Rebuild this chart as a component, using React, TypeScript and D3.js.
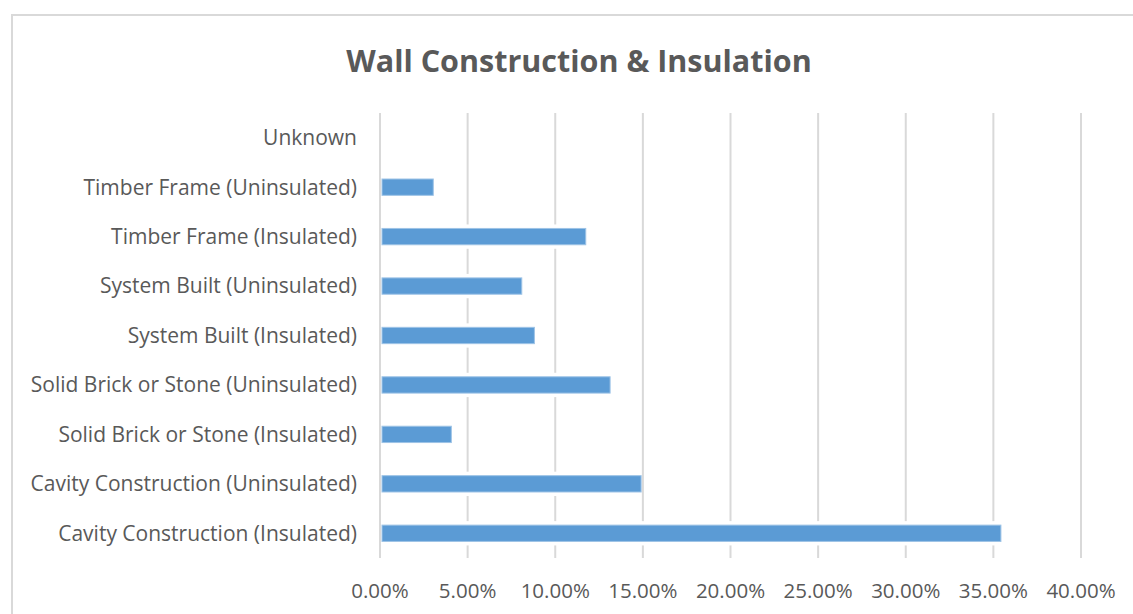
import React from "react";
import * as d3 from "d3";

const width = 1133;
const height = 614;

// categories listed bottom to top, as in the picture
const categories = [
  "Cavity Construction (Insulated)",
  "Cavity Construction (Uninsulated)",
  "Solid Brick or Stone (Insulated)",
  "Solid Brick or Stone (Uninsulated)",
  "System Built (Insulated)",
  "System Built (Uninsulated)",
  "Timber Frame (Insulated)",
  "Timber Frame (Uninsulated)",
  "Unknown",
];
const shares = [35.43, 14.9, 4.07, 13.13, 8.81, 8.09, 11.74, 3.04, 0];
const ticks = [0, 5, 10, 15, 20, 25, 30, 35, 40];

const plot = { left: 380, right: 1081, top: 113, bottom: 558 };
const font = "'Open Sans', sans-serif";
const textColor = "#595959";
const gridColor = "#d9d9d9";

const App = () => {
  const x = d3.scaleLinear().domain([0, 40]).range([plot.left, plot.right]);
  const y = d3
    .scaleBand()
    .domain([...categories].reverse())
    .range([plot.top, plot.bottom])
    .paddingInner(0.67)
    .paddingOuter(0.335);

  return (
    <svg
      width={width}
      height={height}
      style={{ position: "absolute", left: 0, top: 0, background: "#fff" }}
    >
      <rect
        x={12}
        y={15}
        width={width}
        height={height}
        fill="#fff"
        stroke={gridColor}
        strokeWidth={2}
      />
      <text
        x={579}
        y={72}
        textAnchor="middle"
        fontFamily={font}
        fontWeight="bold"
        fontSize={30.5}
        fill={textColor}
      >
        Wall Construction &amp; Insulation
      </text>
      {ticks.map((t) => (
        <g key={t}>
          <line
            x1={x(t)}
            x2={x(t)}
            y1={plot.top}
            y2={plot.bottom}
            stroke={gridColor}
            strokeWidth={2}
          />
          <text
            x={x(t)}
            y={598}
            textAnchor="middle"
            fontFamily={font}
            fontSize={20.5}
            fill={textColor}
          >
            {t.toFixed(2)}%
          </text>
        </g>
      ))}
      {categories.map((c, i) => {
        const by = y(c) as number;
        const bh = y.bandwidth();
        return (
          <g key={c}>
            {shares[i] > 0 && (
              <>
                <rect
                  x={x(0) + 2}
                  y={by - 4}
                  width={x(shares[i]) - x(0) - 2}
                  height={bh + 8}
                  fill="#fff"
                />
                <rect
                  x={x(0) + 2}
                  y={by}
                  width={x(shares[i]) - x(0) - 2}
                  height={bh}
                  fill="#5b9bd5"
                  stroke="#9dc3e6"
                  strokeWidth={1}
                />
              </>
            )}
            <text
              x={357}
              y={by + bh / 2}
              dy="0.35em"
              textAnchor="end"
              fontFamily={font}
              fontSize={21}
              fill={textColor}
            >
              {c}
            </text>
          </g>
        );
      })}
    </svg>
  );
};

export default App;
